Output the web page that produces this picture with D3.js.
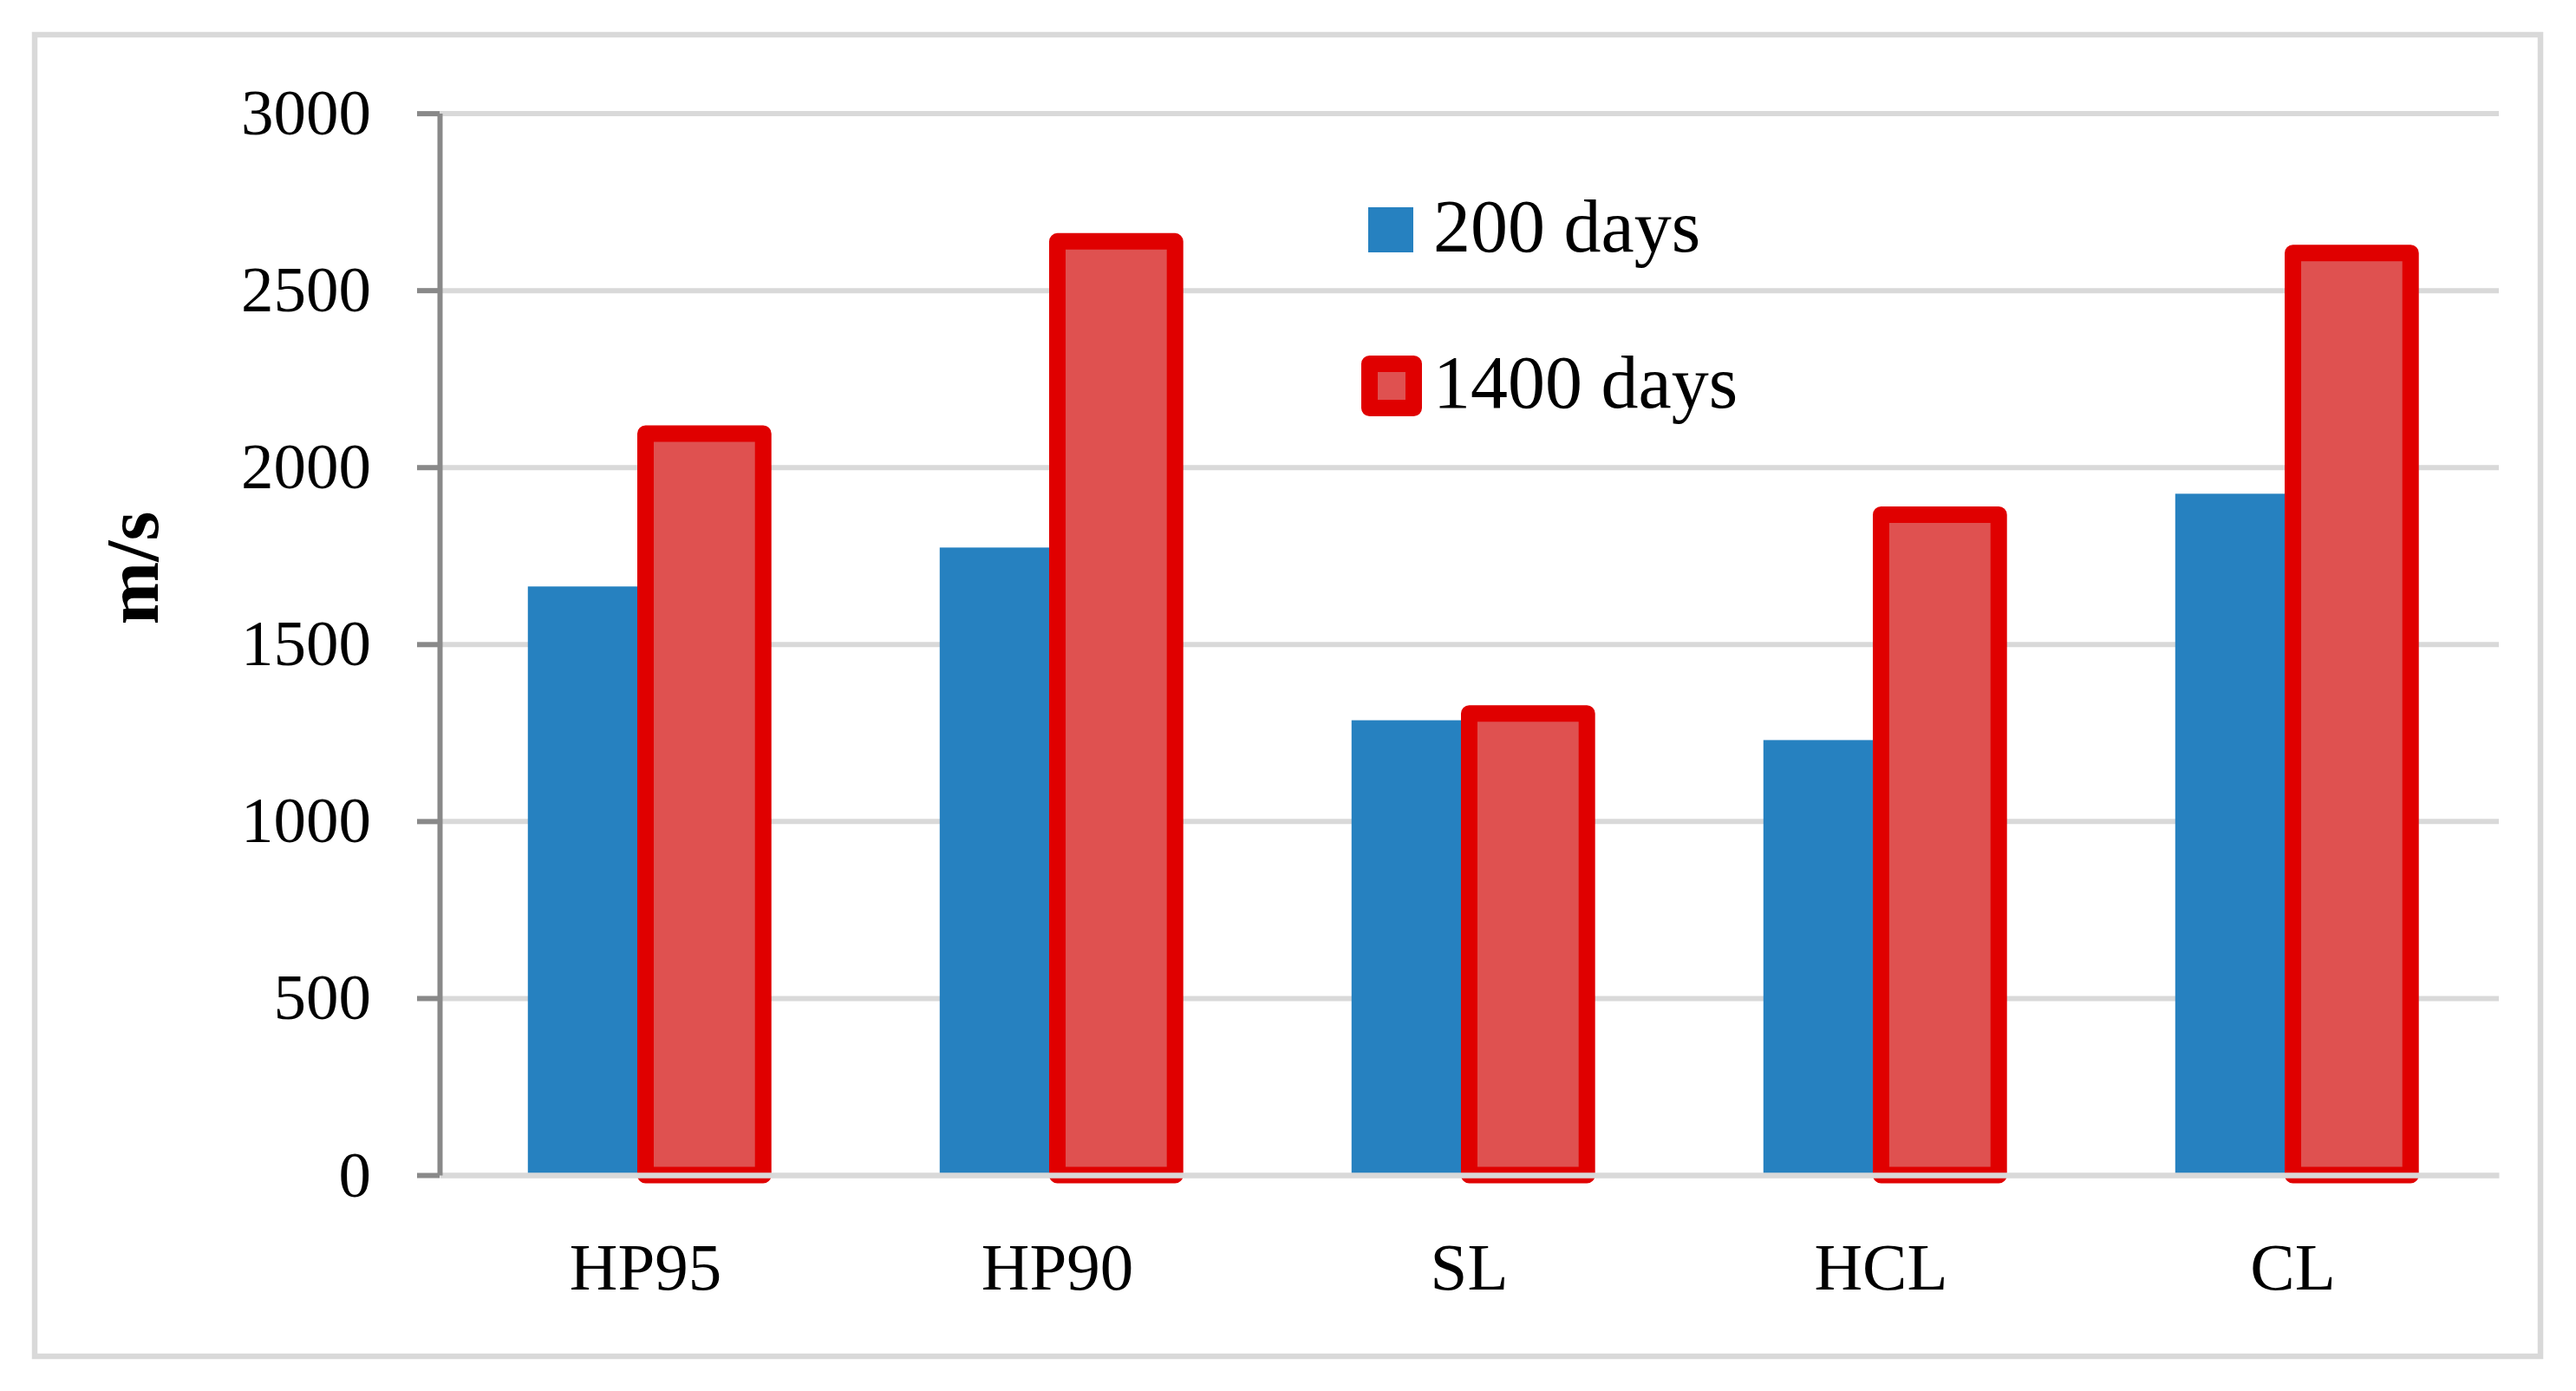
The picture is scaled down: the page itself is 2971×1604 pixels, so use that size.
<!DOCTYPE html>
<html>
<head>
<meta charset="utf-8">
<script src="https://cdn.jsdelivr.net/npm/d3@7"></script>
<style>
  body { margin: 0; background: #fff; }
  text { font-family: "Liberation Serif", "Times New Roman", serif; fill: #000; }
</style>
</head>
<body>
<div id="chart"></div>
<script>
var categories = ["HP95", "HP90", "SL", "HCL", "CL"];
var seriesNames = ["200 days", "1400 days"];
var days200 = [1663, 1773, 1285, 1229, 1925];
var days1400 = [2095, 2638, 1304, 1866, 2605];
var yTicks = [0, 500, 1000, 1500, 2000, 2500, 3000];

var width = 2971,
    height = 1604;

// plot area edges (window.top is reserved, so no plain "top")
var plotLeft = 507, plotRight = 2882, plotTop = 130.6, plotBottom = 1355;

var svg = d3.select("#chart").append("svg")
    .attr("width", width)
    .attr("height", height);

svg.append("rect")
    .attr("width", width).attr("height", height)
    .attr("fill", "#fff");

// chart frame
svg.append("rect")
    .attr("x", 40).attr("y", 40)
    .attr("width", 2890).attr("height", 1524)
    .attr("fill", "none")
    .attr("stroke", "#d9d9d9")
    .attr("stroke-width", 6.5);

var x0 = d3.scaleBand()
    .domain(categories)
    .range([plotLeft, plotRight])
    .paddingInner(1.5 / 3.5)
    .paddingOuter(0.75 / 3.5);

var x1 = d3.scaleBand()
    .domain(seriesNames)
    .range([0, x0.bandwidth()]);

var y = d3.scaleLinear()
    .domain([0, 3000])
    .range([plotBottom, plotTop]);

// gridlines
var grid = svg.append("g")
    .attr("transform", "translate(" + plotLeft + ",0)")
    .call(d3.axisLeft(y).tickValues(yTicks.slice(1)).tickSize(-(plotRight - plotLeft)).tickFormat(""));
grid.select(".domain").remove();
grid.selectAll("line")
    .attr("stroke", "#d9d9d9")
    .attr("stroke-width", 6);

var rows = categories.map(function(c, i) {
  return {cat: c, values: [days200[i], days1400[i]]};
});

var groups = svg.append("g").selectAll("g")
  .data(rows)
  .join("g")
    .attr("transform", function(d) { return "translate(" + x0(d.cat) + ",0)"; });

groups.append("rect")
    .attr("x", x1(seriesNames[0]))
    .attr("y", function(d) { return y(d.values[0]); })
    .attr("width", x1.bandwidth())
    .attr("height", function(d) { return y(0) - y(d.values[0]); })
    .attr("fill", "#2681c0");

groups.append("rect")
    .attr("x", x1(seriesNames[1]))
    .attr("y", function(d) { return y(d.values[1]); })
    .attr("width", x1.bandwidth())
    .attr("height", function(d) { return y(0) - y(d.values[1]); })
    .attr("fill", "#df5150")
    .attr("stroke", "#e00000")
    .attr("stroke-width", 19)
    .attr("stroke-linejoin", "round");

// category axis (baseline drawn over the bars)
var xAxis = svg.append("g")
    .attr("transform", "translate(0," + plotBottom + ")")
    .call(d3.axisBottom(x0).tickSize(0).tickSizeOuter(0));
xAxis.select(".domain")
    .attr("stroke", "#d9d9d9")
    .attr("stroke-width", 6.5);
xAxis.selectAll("text")
    .attr("y", 132)
    .attr("dy", 0)
    .attr("fill", "#000")
    .style("font-size", "77px")
    .style("font-family", "'Liberation Serif', 'Times New Roman', serif");

// value axis
var yAxis = svg.append("g")
    .attr("transform", "translate(" + plotLeft + ",0)")
    .call(d3.axisLeft(y).tickValues(yTicks).tickSize(26).tickSizeOuter(0).tickPadding(53).tickFormat(d3.format("d")));
yAxis.select(".domain")
    .attr("stroke", "#898989")
    .attr("stroke-width", 6);
yAxis.selectAll(".tick line")
    .attr("stroke", "#898989")
    .attr("stroke-width", 6);
yAxis.selectAll("text")
    .attr("fill", "#000")
    .style("font-size", "75px")
    .style("font-family", "'Liberation Serif', 'Times New Roman', serif");

svg.append("text")
    .attr("transform", "translate(182,655) rotate(-90)")
    .attr("text-anchor", "middle")
    .style("font-size", "87px")
    .style("font-weight", "bold")
    .text("m/s");

// legend
var legend = svg.append("g");
legend.append("rect")
    .attr("x", 1578).attr("y", 239)
    .attr("width", 52).attr("height", 52)
    .attr("fill", "#2681c0");
legend.append("rect")
    .attr("x", 1579.5).attr("y", 419.5)
    .attr("width", 51).attr("height", 51)
    .attr("fill", "#df5150")
    .attr("stroke", "#e00000")
    .attr("stroke-width", 19)
    .attr("stroke-linejoin", "round");
legend.selectAll("text")
  .data(seriesNames)
  .join("text")
    .attr("x", 1653)
    .attr("y", function(d, i) { return 290 + i * 180; })
    .style("font-size", "86px")
    .text(function(d) { return d; });
</script>
</body>
</html>
